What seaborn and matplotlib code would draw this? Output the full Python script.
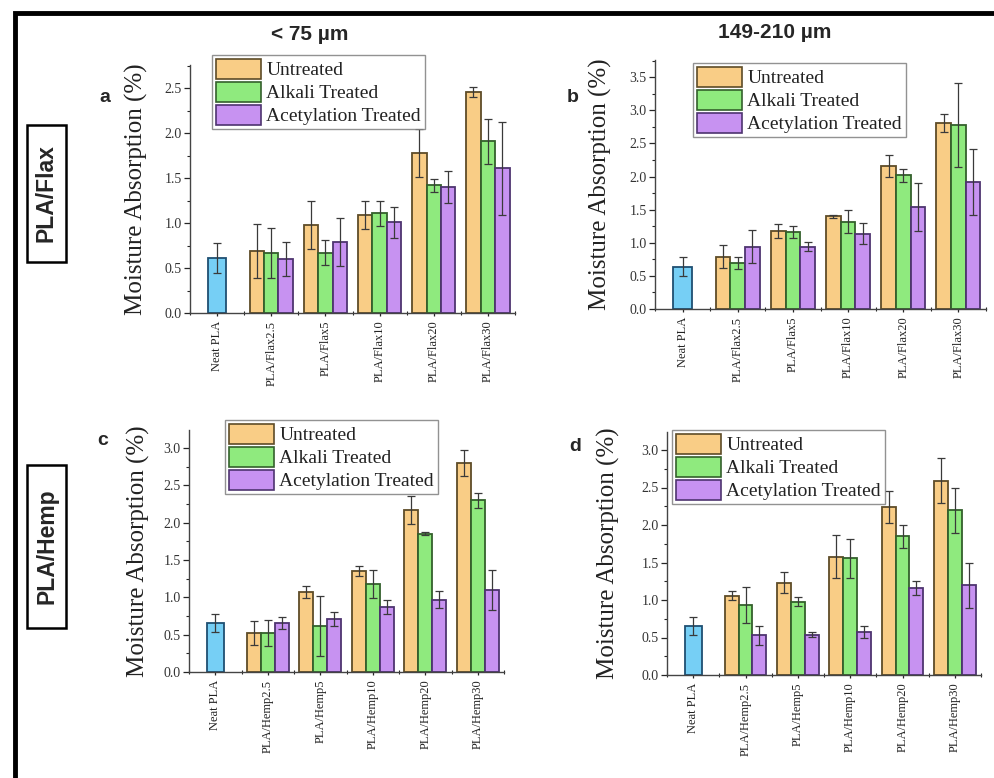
import numpy as np
import pandas as pd
import seaborn as sns
import matplotlib.pyplot as plt
from matplotlib.patches import Patch, Rectangle
from matplotlib.ticker import MultipleLocator

# ---------------- data ----------------
treatments = ["Untreated", "Alkali Treated", "Acetylation Treated"]
flax_cats = ["Neat PLA", "PLA/Flax2.5", "PLA/Flax5", "PLA/Flax10", "PLA/Flax20", "PLA/Flax30"]
hemp_cats = ["Neat PLA", "PLA/Hemp2.5", "PLA/Hemp5", "PLA/Hemp10", "PLA/Hemp20", "PLA/Hemp30"]

# panel a: PLA/Flax, < 75 um
a_neat, a_neat_err = 0.61, 0.17
a_untreated = [0.69, 0.98, 1.09, 1.78, 2.46]
a_untreated_err = [0.30, 0.27, 0.16, 0.27, 0.06]
a_alkali = [0.67, 0.67, 1.11, 1.42, 1.91]
a_alkali_err = [0.28, 0.14, 0.14, 0.07, 0.25]
a_acetyl = [0.60, 0.79, 1.01, 1.40, 1.61]
a_acetyl_err = [0.19, 0.27, 0.17, 0.18, 0.52]

# panel b: PLA/Flax, 149-210 um
b_neat, b_neat_err = 0.64, 0.14
b_untreated = [0.79, 1.18, 1.40, 2.16, 2.81]
b_untreated_err = [0.17, 0.11, 0.02, 0.17, 0.13]
b_alkali = [0.69, 1.16, 1.32, 2.02, 2.78]
b_alkali_err = [0.09, 0.09, 0.17, 0.10, 0.63]
b_acetyl = [0.94, 0.94, 1.14, 1.54, 1.92]
b_acetyl_err = [0.25, 0.07, 0.16, 0.36, 0.50]

# panel c: PLA/Hemp, < 75 um
c_neat, c_neat_err = 0.66, 0.12
c_untreated = [0.52, 1.07, 1.35, 2.17, 2.80]
c_untreated_err = [0.16, 0.08, 0.07, 0.19, 0.17]
c_alkali = [0.52, 0.62, 1.18, 1.85, 2.30]
c_alkali_err = [0.17, 0.40, 0.19, 0.02, 0.10]
c_acetyl = [0.65, 0.71, 0.87, 0.97, 1.10]
c_acetyl_err = [0.08, 0.09, 0.10, 0.11, 0.27]

# panel d: PLA/Hemp, 149-210 um
d_neat, d_neat_err = 0.66, 0.12
d_untreated = [1.06, 1.23, 1.58, 2.24, 2.59]
d_untreated_err = [0.06, 0.14, 0.29, 0.21, 0.30]
d_alkali = [0.94, 0.98, 1.56, 1.85, 2.20]
d_alkali_err = [0.24, 0.06, 0.26, 0.15, 0.30]
d_acetyl = [0.53, 0.54, 0.58, 1.16, 1.20]
d_acetyl_err = [0.13, 0.03, 0.08, 0.09, 0.30]

# ---------------- style ----------------
sns.set_style("ticks")
plt.rcParams["font.family"] = ["Liberation Serif", "DejaVu Serif"]

fill_colors = ["#F9CD86", "#8FEA7E", "#C792F1"]
edge_colors = ["#5E4C28", "#34602C", "#4E3470"]
neat_fill, neat_edge = "#76CFF5", "#1F4F72"

W, H = 994, 778
fig = plt.figure(figsize=(W / 100, H / 100), dpi=100)


def px_axes(l, t, r, b):
    return fig.add_axes([l / W, 1 - b / H, (r - l) / W, (b - t) / H])


panels = [
    dict(box=(190, 65, 515, 313), cats=flax_cats, ymax=2.76, neat=(a_neat, a_neat_err),
         vals=[a_untreated, a_alkali, a_acetyl], errs=[a_untreated_err, a_alkali_err, a_acetyl_err],
         letter="a", letter_pos=(105, 97), leg=(212, 55), ylab_x=148),
    dict(box=(655, 60, 986, 309), cats=flax_cats, ymax=3.76, neat=(b_neat, b_neat_err),
         vals=[b_untreated, b_alkali, b_acetyl], errs=[b_untreated_err, b_alkali_err, b_acetyl_err],
         letter="b", letter_pos=(573, 97), leg=(693, 63), ylab_x=612),
    dict(box=(189, 430, 504, 672), cats=hemp_cats, ymax=3.24, neat=(c_neat, c_neat_err),
         vals=[c_untreated, c_alkali, c_acetyl], errs=[c_untreated_err, c_alkali_err, c_acetyl_err],
         letter="c", letter_pos=(103, 440), leg=(225, 420), ylab_x=150),
    dict(box=(667, 432, 981, 675), cats=hemp_cats, ymax=3.24, neat=(d_neat, d_neat_err),
         vals=[d_untreated, d_alkali, d_acetyl], errs=[d_untreated_err, d_alkali_err, d_acetyl_err],
         letter="d", letter_pos=(575, 447), leg=(672, 430), ylab_x=620),
]

for p in panels:
    l, t, r, b = p["box"]
    ax = px_axes(l, t, r, b)
    cats = p["cats"]
    rows = []
    for tr, vals in zip(treatments, p["vals"]):
        for c, v in zip(cats[1:], vals):
            rows.append(dict(cat=c, val=v, treatment=tr))
    df = pd.DataFrame(rows)
    sns.barplot(data=df, x="cat", y="val", hue="treatment", order=cats, hue_order=treatments,
                palette=fill_colors, saturation=1, width=0.8, errorbar=None, legend=False,
                linewidth=1.3, ax=ax)
    neat_df = pd.DataFrame(dict(cat=[cats[0]], val=[p["neat"][0]]))
    sns.barplot(data=neat_df, x="cat", y="val", order=cats, color=neat_fill, saturation=1,
                width=0.33, errorbar=None, linewidth=1.3, ax=ax)

    # edges + error bars
    for i, cont in enumerate(ax.containers[:3]):
        xs, ys = [], []
        for bar in cont:
            bar.set_edgecolor(edge_colors[i])
            xs.append(bar.get_x() + bar.get_width() / 2)
            ys.append(bar.get_height())
        ax.errorbar(xs, ys, yerr=p["errs"][i], fmt="none", ecolor="#3a3a3a",
                    elinewidth=0.9, capsize=3, capthick=0.9, zorder=5)
    nb = ax.containers[3][0]
    nb.set_edgecolor(neat_edge)
    ax.errorbar([nb.get_x() + nb.get_width() / 2], [nb.get_height()], yerr=[p["neat"][1]],
                fmt="none", ecolor="#3a3a3a", elinewidth=0.9, capsize=3, capthick=0.9, zorder=5)

    ax.set_xlim(-0.5, 5.5)
    ax.set_ylim(0, p["ymax"])
    ax.yaxis.set_major_locator(MultipleLocator(0.5))
    ax.yaxis.set_minor_locator(MultipleLocator(0.25))
    ax.yaxis.set_major_formatter(plt.FuncFormatter(lambda v, _: f"{v:.1f}"))
    ax.set_xticks(range(len(cats)))
    ax.set_xticklabels(cats, rotation=90, fontsize=9, color="#222222")
    ax.set_xticks(np.arange(-0.5, 5.6, 1.0), minor=True)
    ax.tick_params(axis="x", which="major", direction="inout", length=5, width=0.9, pad=3)
    ax.tick_params(axis="x", which="minor", direction="inout", length=3, width=0.8)
    ax.tick_params(axis="y", which="major", direction="out", length=4, width=0.9,
                   labelsize=10, labelcolor="#333333", pad=2)
    ax.tick_params(axis="y", which="minor", direction="out", length=2.5, width=0.8)
    for s in ["top", "right"]:
        ax.spines[s].set_visible(False)
    for s in ["left", "bottom"]:
        ax.spines[s].set_color("#444444")
        ax.spines[s].set_linewidth(1.0)
    ax.set_xlabel("")
    ax.set_ylabel("Moisture Absorption (%)", fontsize=18, color="#222222")
    ax.yaxis.set_label_coords((p["ylab_x"] - l) / (r - l), 0.5)

    handles = [Patch(facecolor=fc, edgecolor=ec, linewidth=1.2) for fc, ec in zip(fill_colors, edge_colors)]
    lx, ly = p["leg"]
    leg = ax.legend(handles, treatments, loc="upper left", bbox_to_anchor=(lx / W, 1 - ly / H),
                    bbox_transform=fig.transFigure, fontsize=14, frameon=True, fancybox=False,
                    borderpad=0.2, labelspacing=0.12, handlelength=2.3, handleheight=1.2,
                    handletextpad=0.3, borderaxespad=0)
    leg.get_frame().set_edgecolor("#777777")
    leg.get_frame().set_linewidth(1.0)
    for txt in leg.get_texts():
        txt.set_color("#222222")

    lxp, lyp = p["letter_pos"]
    fig.text(lxp / W, 1 - lyp / H, p["letter"], fontsize=14, fontweight="bold",
             family=["Liberation Sans", "DejaVu Sans"], ha="center", va="center")

# column titles
fig.text(310 / W, 1 - 35 / H, "< 75 µm", fontsize=15, fontweight="bold",
         family=["Liberation Sans", "DejaVu Sans"], ha="center", va="center")
fig.text(775 / W, 1 - 32 / H, "149-210 µm", fontsize=15, fontweight="bold",
         family=["Liberation Sans", "DejaVu Sans"], ha="center", va="center")

# row labels with boxes
for label, (bt, bb) in [("PLA/Flax", (125, 262)), ("PLA/Hemp", (465, 628))]:
    fig.patches.append(Rectangle((27 / W, 1 - bb / H), 39 / W, (bb - bt) / H,
                                 transform=fig.transFigure, fill=True, fc="white",
                                 ec="black", lw=1.8))
    fig.text(46.5 / W, 1 - (bt + bb) / 2 / H, label, fontsize=16.5, fontweight="bold", rotation=90,
             family=["Liberation Sans", "DejaVu Sans"], ha="center", va="center")

# outer frame (bottom and right edges fall outside the picture)
fig.patches.append(Rectangle((15 / W, -0.05), 1.0, 1.05 - 13 / H, transform=fig.transFigure,
                             fill=False, ec="black", lw=3.5, zorder=0))

fig.savefig("out.png", dpi=100, facecolor="white")
